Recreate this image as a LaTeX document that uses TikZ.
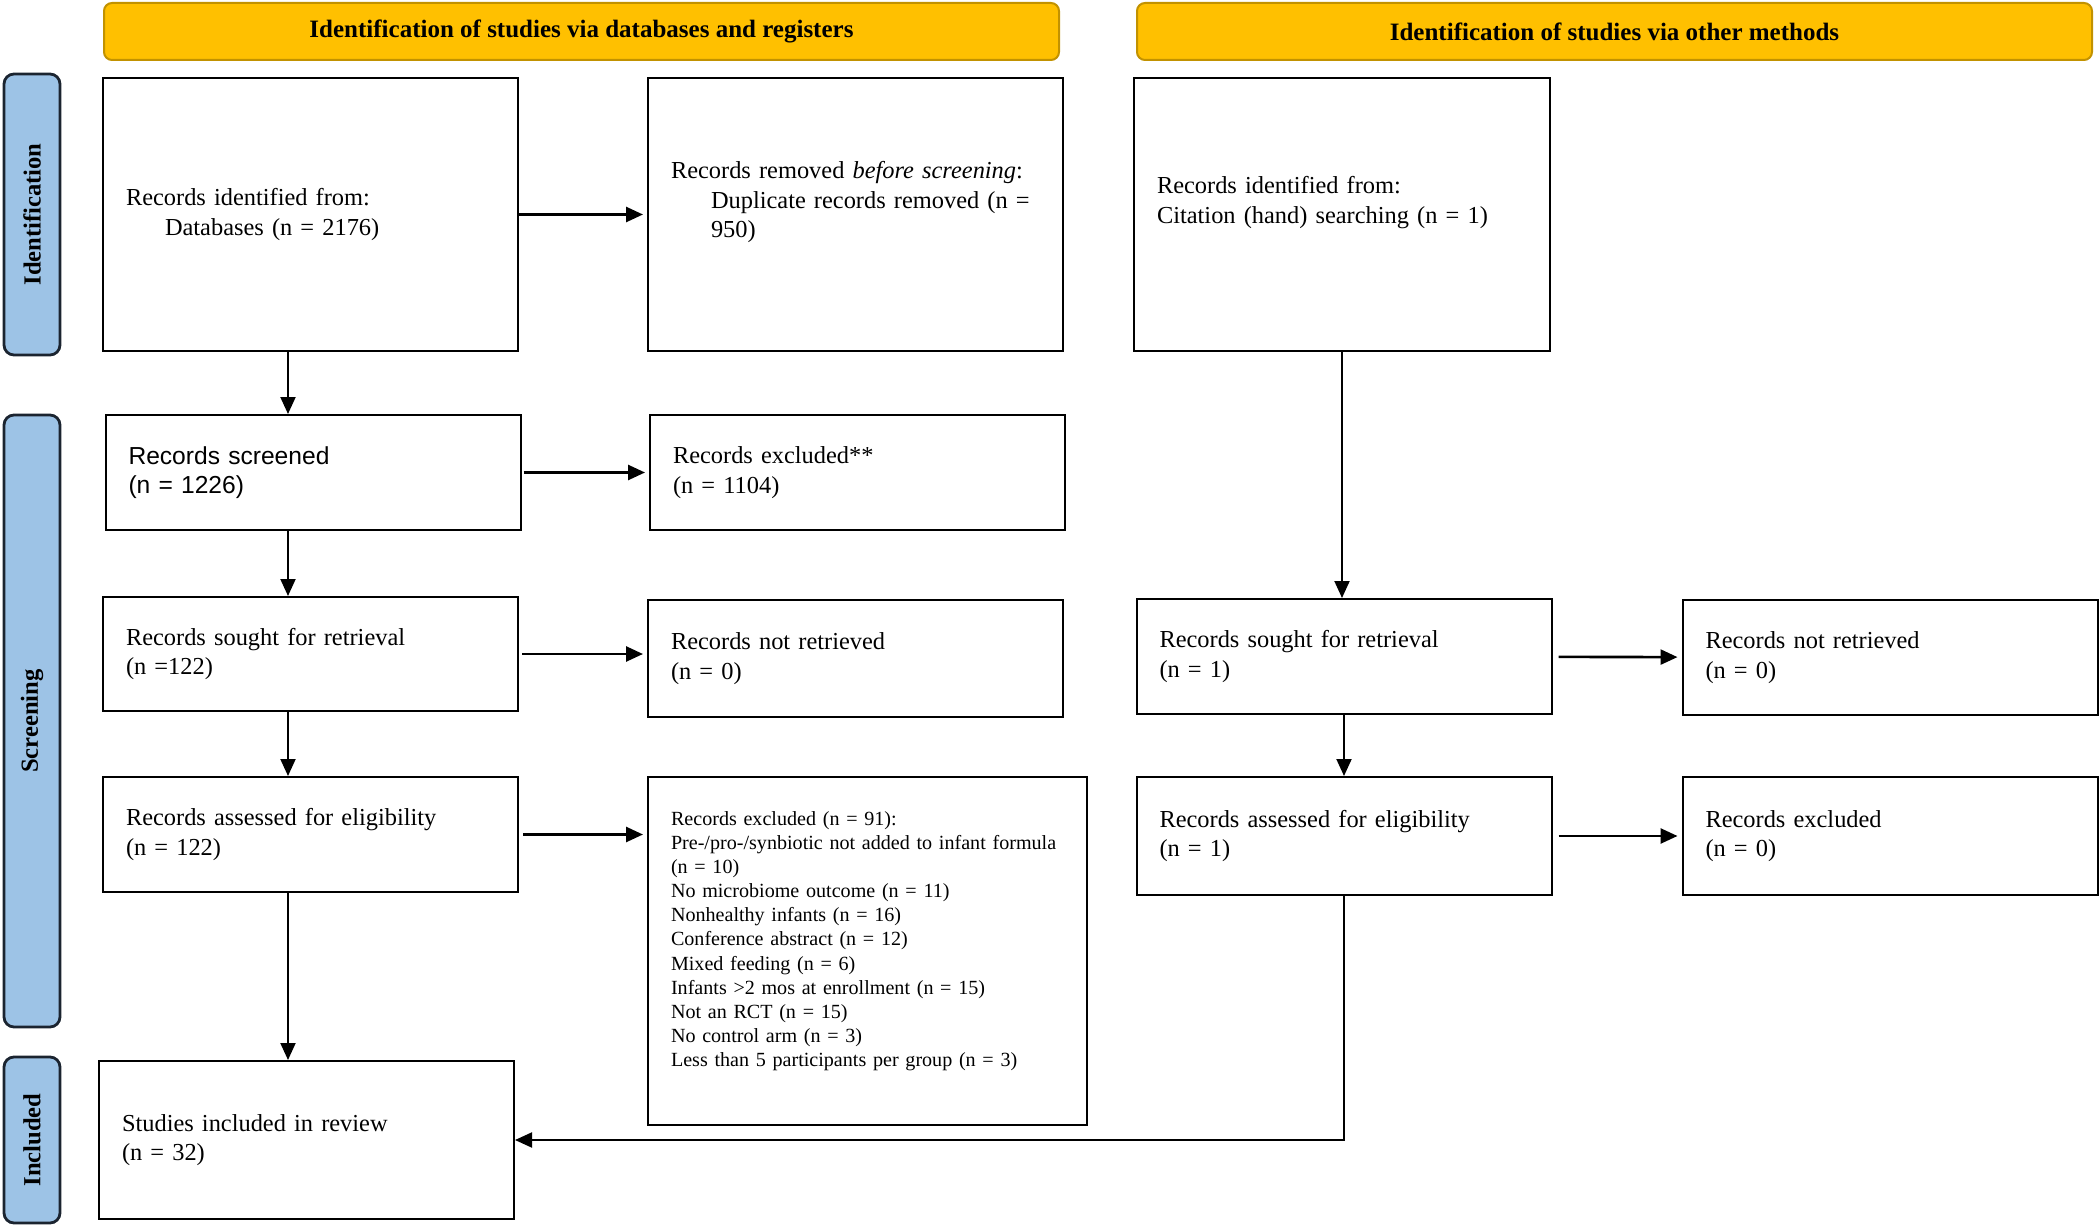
\documentclass[tikz,border=0pt]{standalone}
\usepackage{fontspec}
\setmainfont{Liberation Serif}
\newfontfamily\arialfont{Liberation Sans}
\usetikzlibrary{arrows.meta}
\definecolor{headgold}{HTML}{FFC000}
\definecolor{headedge}{HTML}{C29200}
\definecolor{barblue}{HTML}{9DC3E6}
\definecolor{baredge}{HTML}{1B2430}
\tikzstyle{flow box}=[
        draw,
        line width = 1pt,
        fill = white,
        align = left,
        inner xsep = 11.5pt,
        text width = 184.5pt,
        font = \fontsize{12.2}{14.8}\selectfont
    ]
\tikzstyle{phase head}=[
    draw = headedge,
    fill = headgold,
    line width = 1pt,
    rounded corners = 4pt,
    minimum width = 477.5pt,
    minimum height = 28.5pt,
    font = \bfseries\fontsize{12.5}{15}\selectfont
]
\tikzstyle{phase bar}=[
    draw = baredge,
    fill = barblue,
    line width = 1.4pt,
    rounded corners = 5pt,
    rotate = 90,
    minimum height = 28pt,
    font = \bfseries\fontsize{12.3}{14}\selectfont
]

\begin{document}
\begin{tikzpicture}[x=0.5pt, y=-0.5pt,
        side arrow/.style = {line width=1.3pt, -{Triangle[length=8.5pt, width=7.5pt]}},
        down arrow/.style = {line width=1pt, -{Triangle[length=8.5pt, width=7.5pt]}}]
        \useasboundingbox (0,0) rectangle (2100,1225);

        % headers and phase bars
        \node[phase head] (head1) at (581.5,31.5) {Identification of studies via databases and registers};
        \node[phase head] (head2) at (1614.5,31.5) {Identification of studies via other methods};
        \node[phase bar, minimum width=140.5pt] (ident) at (32,214.5) {Identification};
        \node[phase bar, minimum width=306pt] (screen) at (32,721) {Screening};
        \node[phase bar, minimum width=83pt] (incl) at (32,1140) {Included};

        % databases and registers
        \node[flow box, minimum height=136.5pt] (A) at (310.5,214.5) {Records identified from:\\\hspace*{19.5pt}Databases (n = 2176)};
        \node[flow box, minimum height=136.5pt] (B) at (855.5,214.5) {Records removed \textit{before screening}:\\\hspace*{20pt}Duplicate records removed (n =\\\hspace*{20pt}950)\\\mbox{}};
        \node[flow box, minimum height=57.5pt, font=\arialfont\fontsize{12.3}{14.8}\selectfont] (C) at (313,472.5) {Records screened\\(n = 1226)};
        \node[flow box, minimum height=57.5pt] (D) at (857.5,472.5) {Records excluded**\\(n = 1104)};
        \node[flow box, minimum height=57pt] (E) at (310.5,654) {Records sought for retrieval\\(n =122)};
        \node[flow box, minimum height=58.5pt] (F) at (855.5,658.5) {Records not retrieved\\(n = 0)};
        \node[flow box, minimum height=57.5pt] (G) at (310.5,834.5) {Records assessed for eligibility\\(n = 122)};
        \node[flow box, minimum height=174pt, text width=196.5pt, font=\fontsize{10.05}{12.05}\selectfont] (H) at (867.5,951) {Records excluded (n = 91):\\Pre-/pro-/synbiotic not added to infant formula\\(n = 10)\\No microbiome outcome (n = 11)\\Nonhealthy infants (n = 16)\\Conference abstract (n = 12)\\Mixed feeding (n = 6)\\Infants >2 mos at enrollment (n = 15)\\Not an RCT (n = 15)\\No control arm (n = 3)\\Less than 5 participants per group (n = 3)\\\mbox{}};
        \node[flow box, minimum height=79pt] (I) at (306.5,1140) {Studies included in review\\(n = 32)};

        % other methods
        \node[flow box, minimum height=136.5pt, text width=185pt] (J) at (1342,214.5) {Records identified from:\\Citation (hand) searching (n = 1)\\\mbox{}};
        \node[flow box, minimum height=57.5pt] (K) at (1344,656.5) {Records sought for retrieval\\(n = 1)};
        \node[flow box, minimum height=57.5pt] (L) at (1890,657.5) {Records not retrieved\\(n = 0)};
        \node[flow box, minimum height=59pt] (M) at (1344,836) {Records assessed for eligibility\\(n = 1)};
        \node[flow box, minimum height=59pt] (N) at (1890,836) {Records excluded\\(n = 0)};

        \coordinate (lx) at (288,0);

        \draw[down arrow] (A.south -| lx) -- (C.north -| lx);
        \draw[down arrow] (C.south -| lx) -- (E.north -| lx);
        \draw[down arrow] (E.south -| lx) -- (G.north -| lx);
        \draw[down arrow] (G.south -| lx) -- (I.north -| lx);
        \draw[side arrow, shorten >=2pt] (A) -- (B);
        \draw[side arrow, shorten <=1pt, shorten >=2pt] (C) -- (D);
        \draw[side arrow, shorten <=1.5pt, shorten >=2pt] (E.east) -- (E.east -| F.west);
        \draw[side arrow, shorten <=2pt, shorten >=2pt] (G.east) -- (G.east -| H.west);

        \draw[down arrow] (J.south) -- (J.south |- K.north);
        \draw[down arrow] (K.south) -- (K.south |- M.north);
        \draw[side arrow, shorten <=3pt, shorten >=2pt] (K) -- (L);
        \draw[side arrow, shorten <=3pt, shorten >=2pt] (M) -- (N);
        \draw[down arrow] (M.south) |- (I.east);

    \end{tikzpicture}
\end{document}
